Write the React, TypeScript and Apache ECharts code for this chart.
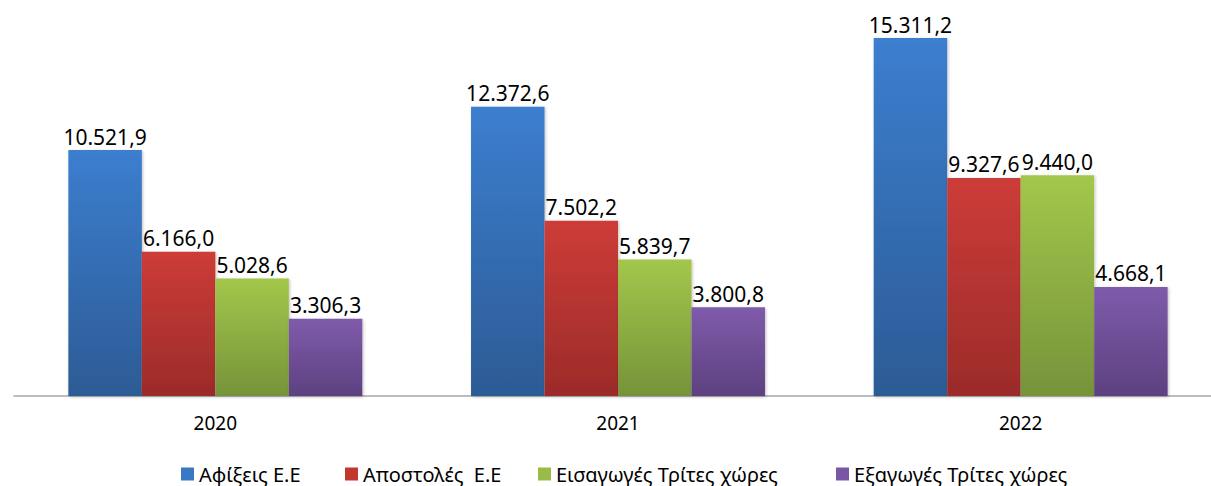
import React, { useEffect, useRef } from "react";
import * as echarts from "echarts";

const categories = ["2020", "2021", "2022"];
const seriesNames = ["Αφίξεις Ε.Ε", "Αποστολές  Ε.Ε", "Εισαγωγές Τρίτες χώρες", "Εξαγωγές Τρίτες χώρες"];
const arrivalsEU = [10521.9, 12372.6, 15311.2];
const dispatchesEU = [6166.0, 7502.2, 9327.6];
const importsThird = [5028.6, 5839.7, 9440.0];
const exportsThird = [3306.3, 3800.8, 4668.1];
const seriesData = [arrivalsEU, dispatchesEU, importsThird, exportsThird];
const colorsTop = ["#3C7ECF", "#CD3C38", "#A3C74B", "#7F5BAB"];
const colorsBottom = ["#2C5B95", "#9B2B29", "#76933A", "#5D4180"];
const legendColors = ["#3A78C6", "#C0392F", "#9BBB48", "#7A56A4"];
const legendLefts = [181, 345, 538, 836];

function fmt(v: number): string {
  const fixed = v.toFixed(1);
  const [intPart, dec] = fixed.split(".");
  const withSep = intPart.replace(/\B(?=(\d{3})+(?!\d))/g, ".");
  return withSep + "," + dec;
}

export default function App() {
  const ref = useRef<HTMLDivElement>(null);
  useEffect(() => {
    document.body.style.margin = "0";
    document.body.style.overflow = "hidden";
    const chart = echarts.init(ref.current!, null, { renderer: "svg" });
    const font = "'Noto Sans', sans-serif";
    chart.setOption({
      animation: false,
      grid: { left: 14, right: 0, top: 22, height: 374 },
      legend: seriesNames.map((n, i) => ({
        top: 463,
        left: legendLefts[i],
        padding: 0,
        itemWidth: 13,
        itemHeight: 13,
        itemGap: 0,
        icon: "rect",
        textStyle: { fontFamily: font, fontSize: 20, lineHeight: 22, color: "#000" },
        data: [{ name: n, itemStyle: { color: legendColors[i] } }],
      })),
      xAxis: {
        type: "category",
        data: categories,
        axisTick: { show: false },
        axisLine: { lineStyle: { color: "#A6A6A6", width: 1.5 } },
        axisLabel: { fontFamily: font, fontSize: 19, color: "#000", margin: 17 },
      },
      yAxis: { type: "value", min: 0, max: 16000, show: false, splitLine: { show: false } },
      series: seriesData.map((d, i) => ({
        name: seriesNames[i],
        type: "bar",
        data: d,
        barGap: "0%",
        barCategoryGap: "27%",
        itemStyle: {
          color: new echarts.graphic.LinearGradient(0, 0, 0, 1, [
            { offset: 0, color: colorsTop[i] },
            { offset: 1, color: colorsBottom[i] },
          ]),
          shadowColor: "rgba(0,0,0,0.25)",
          shadowBlur: 3,
          shadowOffsetX: 1,
          shadowOffsetY: 1,
        },
        label: {
          show: true,
          position: "top",
          distance: 3,
          fontFamily: font,
          fontSize: 21,
          color: "#000",
          formatter: (p: any) => fmt(p.value),
        },
      })),
    });
    return () => chart.dispose();
  }, []);
  return (
    <div style={{ width: 1211, height: 486, overflow: "hidden" }}>
      <div ref={ref} style={{ width: 1222, height: 486 }} />
    </div>
  );
}
